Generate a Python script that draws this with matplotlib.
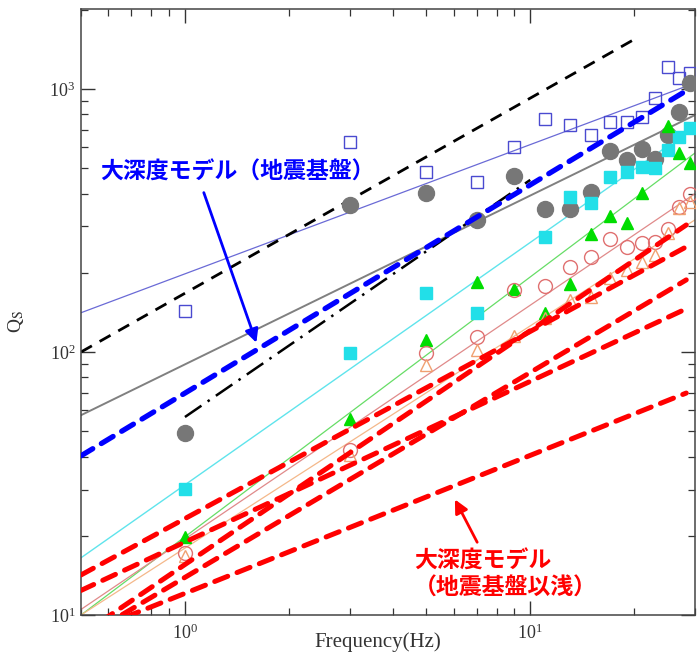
import numpy as np
import matplotlib
matplotlib.use("Agg")
import matplotlib.pyplot as plt
from matplotlib.ticker import LogLocator, NullFormatter

plt.rcParams["font.family"] = ["Liberation Serif", "DejaVu Serif"]
plt.rcParams["mathtext.fontset"] = "stix"

freq = [1, 3, 5, 7, 9, 11, 13, 15, 17, 19, 21, 23, 25, 27, 29]
q_blue_sq = [143, 629, 484, 443, 602, 769, 730, 668, 749, 749, 782, 924, 1212, 1101, 1150]
q_gray = [49.2, 362, 402, 318, 467, 350, 350, 406, 581, 537, 591, 542, 668, 818, 1054]
freq_cyan = [1, 3, 5, 7, 11, 13, 15, 17, 19, 21, 23, 25, 27, 29]
q_cyan = [30.1, 99, 168, 141, 274, 388, 368, 463, 483, 505, 501, 587, 657, 711]
freq_green = [1, 3, 5, 7, 9, 11, 13, 15, 17, 19, 21, 25, 27, 29]
q_green = [19.8, 55.6, 111, 185, 174, 141, 181, 281, 329, 310, 402, 723, 571, 523]
q_red_circ = [17.2, 42.4, 99, 114, 172, 178, 210, 230, 269, 251, 260, 262, 294, 356, 399]
q_orange_tri = [16.8, 40.6, 89, 102, 115, 135, 158, 162, 191, 205, 220, 234, 283, 353, 372]

# fitted / model lines: (f_start, f_end), (Q_start, Q_end)
fit_blue = ([0.5, 30], [141, 1054])
fit_gray = ([0.5, 30], [57.5, 796])
fit_cyan = ([0.5, 30], [16.5, 718])
fit_green = ([0.5, 30], [10.0, 571])
fit_red = ([0.5, 30], [10.5, 400])
fit_orange = ([0.5, 30], [10.0, 318])
black_dash = ([0.5, 20.1], [100, 1549])
black_dashdot = ([1, 10], [56.6, 451])
deep_model = ([0.5, 28.5], [40.3, 990])
shallow_models = [
    ([0.5, 28.3], [8.4, 304]),
    ([0.5, 28.3], [14.2, 251]),
    ([0.5, 28.3], [8.1, 188]),
    ([0.5, 28.3], [12.4, 146]),
    ([0.5, 28.3], [8.4, 69.8]),
]

fig = plt.figure(figsize=(6.97, 6.60), dpi=100)
ax = fig.add_axes([81 / 697, 1 - 615 / 660, 614 / 697, 606 / 660])
ax.set_xscale("log")
ax.set_yscale("log")
ax.set_xlim(0.5, 30)
ax.set_ylim(10, 2014)

# thin fitted lines
ax.plot(*fit_blue, color="#6a6ad6", lw=0.9, zorder=2)
ax.plot(*fit_gray, color="#808080", lw=1.4, zorder=2)
ax.plot(*fit_cyan, color="#5fe4ec", lw=1.0, zorder=2)
ax.plot(*fit_green, color="#66dd66", lw=0.9, zorder=2)
ax.plot(*fit_red, color="#e08a8a", lw=0.9, zorder=2)
ax.plot(*fit_orange, color="#f4b88a", lw=0.9, zorder=2)

ax.plot(*black_dash, color="black", lw=2.0, dashes=(4.5, 3.2), zorder=2)
ax.plot(*black_dashdot, color="black", lw=1.8, dashes=(8, 3, 1, 3), zorder=2)

# observed points
ax.plot(freq, q_blue_sq, ls="none", marker="s", ms=8, mfc="none", mec="#4a4ad0", mew=1.0, zorder=3)
ax.plot(freq, q_gray, ls="none", marker="o", ms=11.5, mfc="#777777", mec="#777777", zorder=3)
ax.plot(freq_cyan, q_cyan, ls="none", marker="s", ms=8, mfc="#22dfe8", mec="#22dfe8", zorder=3)
ax.plot(freq_green, q_green, ls="none", marker="^", ms=9, mfc="#00dd00", mec="#00dd00", zorder=3)
ax.plot(freq, q_red_circ, ls="none", marker="o", ms=10, mfc="none", mec="#e07070", mew=1.0, zorder=3)
ax.plot(freq, q_orange_tri, ls="none", marker="^", ms=9, mfc="none", mec="#f0a070", mew=1.0, zorder=3)

# models
ax.plot(*deep_model, color="#0000ff", lw=3.8, dashes=(2.6, 1.9), dash_capstyle="round", zorder=4)
for f_pair, q_pair in shallow_models:
    ax.plot(f_pair, q_pair, color="#ff0000", lw=3.6, dashes=(2.8, 2.0), dash_capstyle="round", zorder=5)

# annotations
jp = ["Noto Sans CJK JP", "DejaVu Sans"]
ax.annotate("", xy=(1.62, 106), xytext=(1.127, 413),
            arrowprops=dict(arrowstyle="-|>", color="#0000ff", lw=2, mutation_scale=20), zorder=6)
ax.text(0.569, 483, "大深度モデル（地震基盤）", family=jp, fontsize=16.5, fontweight="bold",
        color="#0000ff", ha="left", va="center", zorder=6)
ax.annotate("", xy=(6.0, 28.1), xytext=(7.08, 18.5),
            arrowprops=dict(arrowstyle="-|>", color="#ff0000", lw=2, mutation_scale=20), zorder=6)
ax.text(4.6, 14.2, "大深度モデル\n（地震基盤以浅）", family=jp, fontsize=16.5, fontweight="bold",
        color="#ff0000", ha="left", va="center", linespacing=1.2, zorder=6)

ax.xaxis.set_minor_locator(LogLocator(base=10, subs=np.arange(2, 10)))
ax.yaxis.set_minor_locator(LogLocator(base=10, subs=np.arange(2, 10)))
ax.xaxis.set_minor_formatter(NullFormatter())
ax.yaxis.set_minor_formatter(NullFormatter())
ax.tick_params(which="both", direction="in", top=True, right=True, colors="#333333", labelcolor="#333333")
ax.tick_params(which="major", length=10, width=1.0, labelsize=13, pad=6)
ax.tick_params(which="minor", length=5, width=0.9)
ax.tick_params(axis="y", which="major", pad=4)
for s in ax.spines.values():
    s.set_color("#444444")
    s.set_linewidth(1.1)

ax.set_xlabel("Frequency(Hz)", fontsize=15, color="#333333")
ax.set_ylabel(r"Q$_\mathrm{S}$", fontsize=14, color="#333333")
ax.xaxis.set_label_coords(0.484, -0.028)
ax.yaxis.set_label_coords(-0.09, 0.485)

fig.savefig("out.png", dpi=100)
